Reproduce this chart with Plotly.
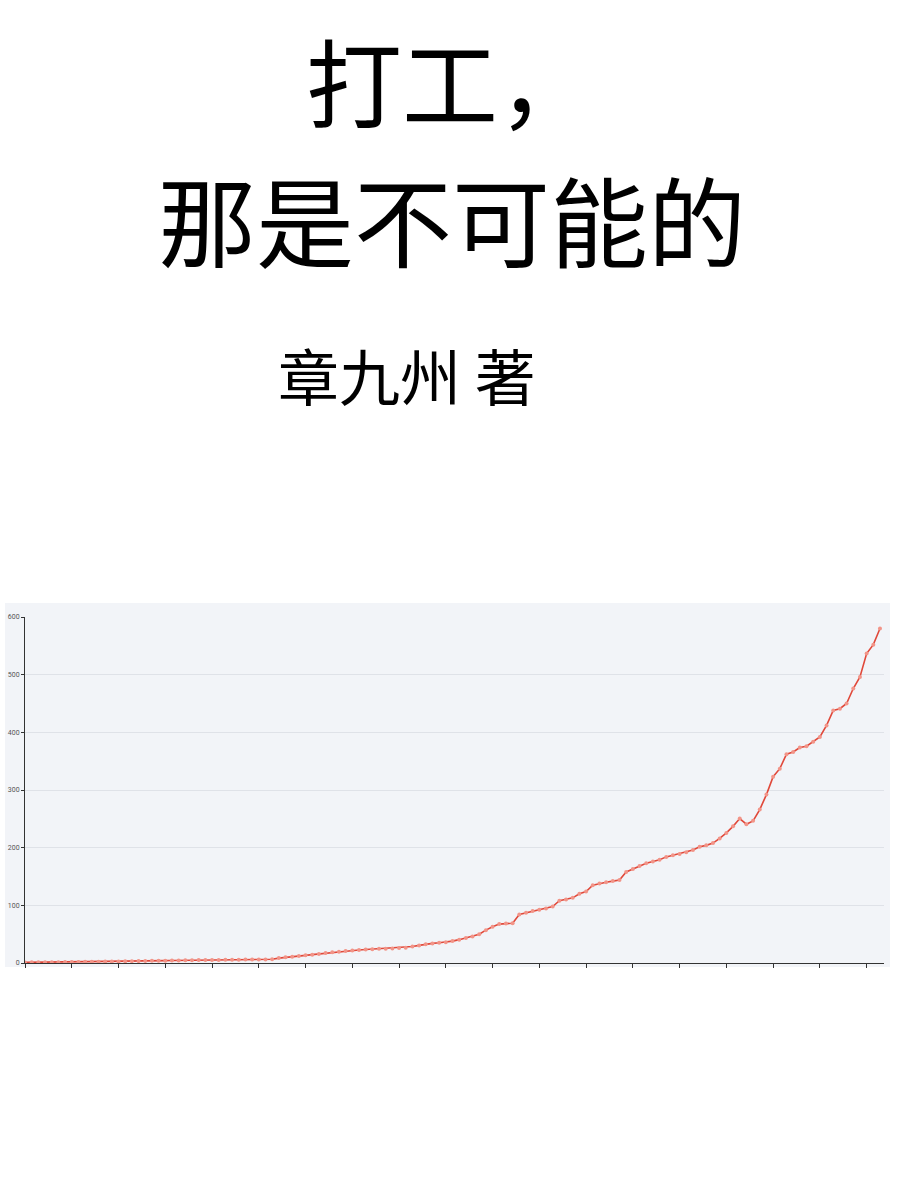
import plotly.graph_objects as go

# values, one point per period
values = [
    1.0, 1.1, 1.2, 1.3, 1.4, 1.5, 1.6, 1.7, 1.8, 2.0,
    2.1, 2.2, 2.4, 2.5, 2.7, 2.9, 3.1, 3.3, 3.5, 3.7,
    3.9, 4.1, 4.3, 4.5, 4.7, 4.9, 5.0, 5.2, 5.3, 5.4,
    5.6, 5.7, 5.8, 5.9, 6.0, 6.1, 6.2, 6.4, 8.5, 10.0,
    11.0, 12.0, 13.3, 14.5, 15.8, 17.2, 18.5, 19.6, 20.8, 21.6,
    22.5, 23.3, 24.0, 24.5, 24.9, 25.3, 25.8, 26.5, 28.5, 30.5,
    32.5, 34.0, 35.0, 36.0, 38.0, 40.5, 43.5, 46.0, 50.0, 57.0,
    63.0, 67.5, 68.5, 69.0, 84.0, 87.0, 90.0, 92.5, 94.7, 98.0,
    108.0, 110.0, 113.0, 120.0, 124.0, 135.0, 138.0, 140.0, 142.0, 144.0,
    158.0, 163.0, 168.0, 172.8, 176.0, 179.0, 184.0, 187.0, 189.0, 192.0,
    196.0, 201.5, 204.0, 208.0, 216.0, 225.6, 237.0, 250.5, 240.7, 246.5,
    266.0, 292.0, 323.0, 337.0, 362.0, 366.0, 373.7, 376.0, 383.5, 392.0,
    412.0, 438.0, 441.0, 450.0, 476.0, 496.0, 536.5, 552.0, 580.0,
]
periods = list(range(len(values)))
y_ticks = [0, 100, 200, 300, 400, 500, 600]

title_1 = "打工，"
title_2 = "那是不可能的"
author = "章九州 著"

W, H = 900, 1198
L, R, T, B = 25, 16, 617, 235


def px_x(x):
    return (x - L) / (W - L - R)


def px_y(y):
    return (H - B - y) / (H - T - B)


fig = go.Figure()
fig.add_trace(go.Scatter(x=periods, y=values, mode="lines+markers",
                         line=dict(color="#e0483a", width=1.6),
                         marker=dict(size=4, color="#f29488"),
                         hoverinfo="skip", showlegend=False))

# light panel behind the chart
fig.add_shape(type="rect", xref="paper", yref="paper",
              x0=px_x(5), x1=px_x(890), y0=px_y(967), y1=px_y(603),
              fillcolor="#f2f4f8", line=dict(width=0), layer="below")

cjk = "Noto Sans CJK SC"
for txt, cx, cy, size in [(title_1, 450, 79, 96),
                          (title_2, 452, 217, 98),
                          (author, 407, 374, 61)]:
    fig.add_annotation(text=txt, xref="paper", yref="paper",
                       x=px_x(cx), y=px_y(cy), xanchor="center", yanchor="middle",
                       showarrow=False,
                       font=dict(family=cjk, size=size, color="black"))

fig.update_xaxes(range=[0, 128.6], showgrid=False, zeroline=False, automargin=False,
                 showline=True, linecolor="#333333", linewidth=1,
                 tickmode="linear", tick0=0, dtick=7, ticks="outside",
                 ticklen=4, tickcolor="#333333", showticklabels=False)
fig.update_yaxes(range=[0, 600], tickvals=y_ticks, showgrid=True, automargin=False,
                 gridcolor="#dfe2e8", gridwidth=1, zeroline=False,
                 showline=True, linecolor="#333333", linewidth=1,
                 ticks="outside", ticklen=3, tickcolor="#333333",
                 tickfont=dict(family="Roboto", size=7, color="#555555"))

fig.update_layout(width=W, height=H, autosize=False,
                  margin=dict(l=L, r=R, t=T, b=B),
                  paper_bgcolor="white", plot_bgcolor="rgba(0,0,0,0)")

# drop the browser's default body margin so the figure sits at the page corner
fig.write_html("out.html", config={"displayModeBar": False},
               post_script="document.body.style.margin = '0';")
